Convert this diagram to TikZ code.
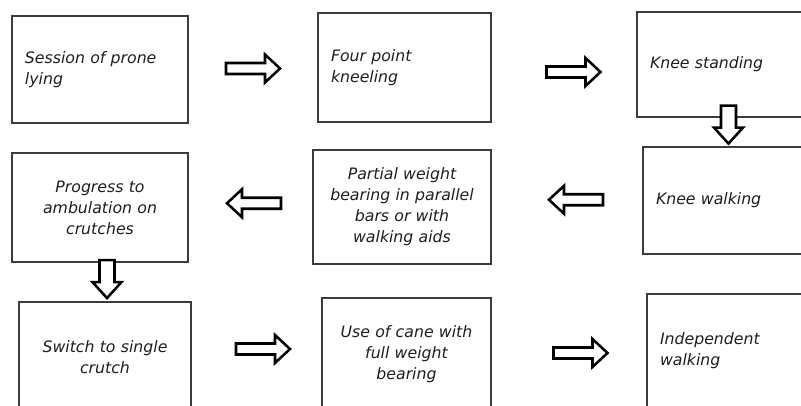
\documentclass[tikz,border=0pt]{standalone}
\usepackage{fontspec}
\usepackage{tikz}
\usetikzlibrary{calc}
\newfontfamily\stepfont{DejaVu Sans Oblique}
\definecolor{boxline}{RGB}{60,60,60}
\definecolor{steptext}{RGB}{30,30,30}
\tikzset{
  stepbox/.style={draw=boxline, line width=0.9pt, inner sep=0pt, text=steptext,
    font=\stepfont\fontsize{11.8pt}{15.75pt}\selectfont},
  blockarrow/.style={draw=black, fill=white, line width=1.9pt, line join=miter},
  rarrow/.pic={\draw[blockarrow] (-27,-5.5) -- (12,-5.5) -- (12,-14) -- (27,0) -- (12,14) -- (12,5.5) -- (-27,5.5) -- cycle;},
  larrow/.pic={\draw[blockarrow] (27,-5.5) -- (-12,-5.5) -- (-12,-14) -- (-27,0) -- (-12,14) -- (-12,5.5) -- (27,5.5) -- cycle;},
  darrow/.pic={\draw[blockarrow] (-7.5,19) -- (7.5,19) -- (7.5,-3) -- (14.5,-3) -- (0,-19) -- (-14.5,-3) -- (-7.5,-3) -- cycle;}
}
\begin{document}
\begin{tikzpicture}[x=0.75pt,y=0.75pt,yscale=-1,xscale=1]
        \path[use as bounding box, clip] (0,0) rectangle (801,406);
        \node[stepbox, minimum width=132pt, minimum height=80.25pt, text width=112.5pt, align=left] (prone) at (100,69.5) {Session of prone\\lying};
        \node[stepbox, minimum width=129.75pt, minimum height=81.75pt, text width=110.25pt, align=left] (fourpt) at (404.5,67.5) {Four point\\kneeling};
        \node[stepbox, minimum width=144.75pt, minimum height=78.75pt, text width=125.25pt, align=left] (kneestand) at (733.5,64.5) {Knee standing};
        \node[stepbox, minimum width=132pt, minimum height=81.75pt, text width=112.5pt, align=center] (crutches) at (100,207.5) {Progress to\\ambulation on\\crutches};
        \node[stepbox, minimum width=133.5pt, minimum height=85.5pt, text width=114pt, align=center] (partial) at (402,207) {Partial weight\\bearing in parallel\\bars or with\\walking aids};
        \node[stepbox, minimum width=140.25pt, minimum height=80.25pt, text width=120.75pt, align=left] (kneewalk) at (736.5,200.5) {Knee walking};
        \node[stepbox, minimum width=129pt, minimum height=82.5pt, text width=109.5pt, align=center] (single) at (105,357) {Switch to single\\crutch};
        \node[stepbox, minimum width=126.75pt, minimum height=84pt, text width=107.25pt, align=center] (cane) at (406.5,354) {Use of cane with\\full weight\\bearing};
        \node[stepbox, minimum width=137.25pt, minimum height=85.5pt, text width=117.75pt, align=left] (independent) at (738.5,351) {Independent\\walking};
        \pic at ($(prone.east)!.5!(fourpt.west)$) {rarrow};
        \pic at ($(fourpt.east)!.5!(kneestand.west)+(9.5,6)$) {rarrow};
        \pic at ($(kneestand.south)+(-5,7)$) {darrow};
        \pic at ($(kneewalk.west)!.5!(partial.east)+(9,-4)$) {larrow};
        \pic at ($(partial.west)!.5!(crutches.east)+(3.5,-4)$) {larrow};
        \pic at ($(crutches.south)+(7,16.5)$) {darrow};
        \pic at ($(single.east)!.5!(cane.west)+(6.5,-6.5)$) {rarrow};
        \pic at ($(cane.east)!.5!(independent.west)+(11.5,0.5)$) {rarrow};
\end{tikzpicture}
\end{document}
